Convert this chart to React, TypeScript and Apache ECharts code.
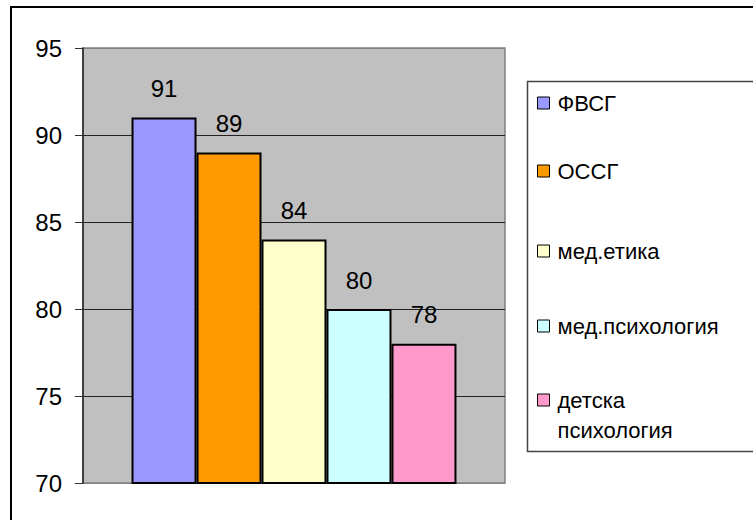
import React, { useEffect, useRef } from 'react';
import * as echarts from 'echarts';

const categories = [''];
const seriesNames = ['ФВСГ', 'ОССГ', 'мед.етика', 'мед.психология', 'детска психология'];
const seriesValues = [91, 89, 84, 80, 78];
const seriesColors = ['#9999FF', '#FF9900', '#FFFFCC', '#CCFFFF', '#FF99CC'];
const yMin = 70;
const yMax = 95;
const yInterval = 5;
const legendCenters = [103, 171, 251, 326, 400];

const FONT = 'Liberation Sans, Arial, sans-serif';

export default function App() {
  const ref = useRef<HTMLDivElement>(null);
  useEffect(() => {
    document.body.style.margin = '0';
    const chart = echarts.init(ref.current!, null, { renderer: 'svg' });
    const legends = seriesNames.map((name, i) => {
      const last = i === seriesNames.length - 1;
      return {
        data: [name],
        orient: 'vertical',
        left: 537,
        top: last ? legendCenters[i] - 45 : legendCenters[i] - 12,
        padding: 0,
        itemWidth: 12,
        itemHeight: 12,
        icon: 'rect',
        selectedMode: false,
        itemStyle: { borderColor: '#000', borderWidth: 1 },
        formatter: last ? '\nдетска\nпсихология' : '{name}',
        textStyle: {
          fontFamily: FONT,
          fontSize: 22,
          color: '#000',
          lineHeight: last ? 30 : 24,
          padding: [0, 0, 0, 3],
        },
      };
    });
    chart.setOption({
      animation: false,
      backgroundColor: '#fff',
      textStyle: { fontFamily: FONT },
      grid: {
        left: 83,
        top: 48,
        width: 422,
        height: 435,
        show: true,
        backgroundColor: '#C0C0C0',
        borderColor: '#808080',
        borderWidth: 1.5,
      },
      legend: legends,
      xAxis: {
        type: 'category',
        data: categories,
        axisLine: { show: false },
        axisTick: { show: false },
        axisLabel: { show: false },
        splitLine: { show: false },
      },
      yAxis: {
        type: 'value',
        min: yMin,
        max: yMax,
        interval: yInterval,
        axisLine: { show: true, lineStyle: { color: '#222', width: 1.5 } },
        axisTick: { show: true, length: 8, lineStyle: { color: '#333', width: 1 } },
        axisLabel: { fontFamily: FONT, fontSize: 24, color: '#000', margin: 21 },
        splitLine: {
          show: true,
          lineStyle: { color: ['#808080', '#222', '#222', '#222', '#222', '#808080'], width: 1 },
        },
      },
      series: seriesNames.map((name, i) => ({
        type: 'bar',
        name,
        data: [seriesValues[i]],
        barGap: '0%',
        barCategoryGap: '23%',
        itemStyle: { color: seriesColors[i], borderColor: '#000', borderWidth: 2 },
        label: {
          show: true,
          position: 'top',
          distance: 17,
          fontFamily: FONT,
          fontSize: 24,
          color: '#000',
        },
      })),
      graphic: [
        {
          type: 'rect',
          z: 0,
          shape: { x: 527.5, y: 81.5, width: 300, height: 370 },
          style: { fill: 'none', stroke: '#444', lineWidth: 1.5 },
        },
        {
          type: 'rect',
          z: 0,
          shape: { x: 11, y: 7, width: 800, height: 600 },
          style: { fill: 'none', stroke: '#000', lineWidth: 2 },
        },
      ],
    });
    return () => chart.dispose();
  }, []);
  return <div ref={ref} style={{ width: 753, height: 520 }} />;
}
